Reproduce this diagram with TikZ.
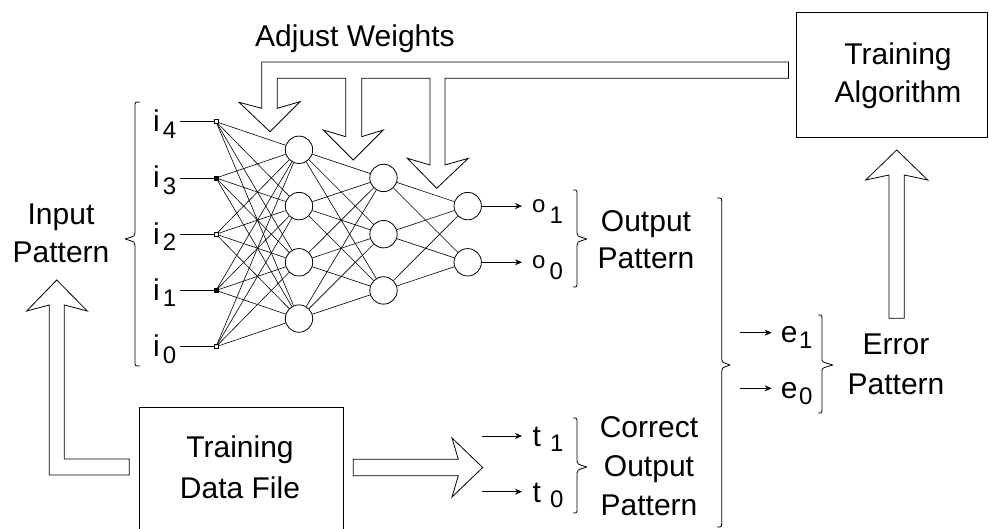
\documentclass[tikz,border=0pt]{standalone}
\usepackage{fontspec}
\setmainfont{Liberation Sans}
\usetikzlibrary{arrows.meta}
\newcommand\subidx[2]{\raisebox{-#2pt}{\fontsize{24}{24}\selectfont #1}}
\begin{document}
\begin{tikzpicture}[x=1pt,y=-1pt,
  wire/.style={line width=0.6pt},
  neuron/.style={circle,draw,line width=0.8pt,minimum size=27.4pt,inner sep=0pt},
  tap/.style={rectangle,draw,line width=0.6pt,minimum size=4pt,inner sep=0pt},
  tapfull/.style={tap,fill=black},
  hollow/.style={draw,line width=0.8pt,line join=miter},
  box/.style={draw,line width=1pt,inner sep=0pt},
  lbl/.style={font=\fontsize{30}{38}\selectfont,inner sep=0pt},
  small/.style={font=\fontsize{24}{24}\selectfont,inner sep=0pt},
  feed/.style={-{Stealth[length=7pt,width=6pt]},line width=0.8pt},
  brace/.style={line width=0.8pt,line join=round}]
\useasboundingbox (0,0) rectangle (989,529);
\clip (0,0) rectangle (989,529);

% ---------- network ----------
\foreach \k/\y in {4/121.7,3/177.95,2/234.2,1/290.45,0/346.7}{
  \coordinate (is\k) at (180,\y);
}
\node[tap]     (in4) at (216,121.7)  {};
\node[tapfull] (in3) at (216,177.95) {};
\node[tap]     (in2) at (216,234.2)  {};
\node[tapfull] (in1) at (216,290.45) {};
\node[tap]     (in0) at (216,346.7)  {};
\foreach \k in {0,...,4}{ \draw[wire,line width=0.8pt] (is\k) -- (in\k.west); }

\foreach \j/\y in {3/149.8,2/206.1,1/262.3,0/318.6}{ \node[neuron] (ha\j) at (299,\y) {}; }
\foreach \j/\y in {2/177.95,1/234.2,0/290.45}{ \node[neuron] (hb\j) at (383.5,\y) {}; }
\foreach \j/\y in {1/206.1,0/262.3}{ \node[neuron] (o\j) at (467.7,\y) {}; }

\foreach \a in {0,...,4}{ \foreach \b in {0,...,3}{ \draw[wire] (in\a) -- (ha\b); } }
\foreach \a in {0,...,3}{ \foreach \b in {0,...,2}{ \draw[wire] (ha\a) -- (hb\b); } }
\foreach \a in {0,...,2}{ \foreach \b in {0,1}{ \draw[wire] (hb\a) -- (o\b); } }

% input labels
\foreach \k/\y in {4/121.7,3/177.95,2/234.2,1/290.45,0/346.7}{
  \node[lbl,anchor=base west] (li\k) at (153,\y+10) {i\kern3pt\subidx{\k}{6.5}};
}

% outputs
\coordinate (oe1) at (522,206.1);
\coordinate (oe0) at (522,262.3);
\draw[feed] (o1) -- (oe1);
\draw[feed] (o0) -- (oe0);
\node[small,anchor=base west] (lo1) at (532,212.1) {o\kern4pt\subidx{1}{11}};
\node[small,anchor=base west] (lo0) at (532,268.3) {o\kern4pt\subidx{0}{11}};

% targets
\coordinate (ts1) at (482,436);   \coordinate (te1) at (522,436);
\coordinate (ts0) at (482,491.7); \coordinate (te0) at (522,491.7);
\draw[feed] (ts1) -- (te1);
\draw[feed] (ts0) -- (te0);
\node[lbl,anchor=base west] (lt1) at (532.5,447) {t\kern9pt\subidx{1}{5}};
\node[lbl,anchor=base west] (lt0) at (532.5,502.7) {t\kern9pt\subidx{0}{5}};

% errors
\coordinate (es1) at (740,332.7); \coordinate (ee1) at (771.7,332.7);
\coordinate (es0) at (740,388.3); \coordinate (ee0) at (771.7,388.3);
\draw[feed] (es1) -- (ee1);
\draw[feed] (es0) -- (ee0);
\node[lbl,anchor=base west] (le1) at (780.7,343) {e\kern1.5pt\subidx{1}{6}};
\node[lbl,anchor=base west] (le0) at (780.7,398.6) {e\kern1.5pt\subidx{0}{6}};

% ---------- braces ----------
% input brace (opens right)
\draw[brace] (140,102) .. controls (135,102) .. (135,107) -- (135,233)
  .. controls (135,236) .. (125,239) .. controls (135,242) .. (135,245)
  -- (135,361) .. controls (135,366) .. (140,366);
% output brace
\draw[brace] (573,190) .. controls (577,190) .. (577,195) -- (577,233)
  .. controls (577,236) .. (587,239) .. controls (577,242) .. (577,245)
  -- (577,282) .. controls (577,287) .. (573,287);
% correct output brace
\draw[brace] (573,418) .. controls (577,418) .. (577,423) -- (577,461)
  .. controls (577,464) .. (587,467) .. controls (577,470) .. (577,473)
  -- (577,508) .. controls (577,513) .. (573,513);
% combined brace
\draw[brace] (717,198) .. controls (721.7,198) .. (721.7,203) -- (721.7,359)
  .. controls (721.7,362) .. (730,365) .. controls (721.7,368) .. (721.7,371)
  -- (721.7,522) .. controls (721.7,527) .. (717,527);
% error brace
\draw[brace] (818,315) .. controls (822,315) .. (822,320) -- (822,359)
  .. controls (822,362) .. (833,365) .. controls (822,368) .. (822,371)
  -- (822,408) .. controls (822,413) .. (818,413);

% ---------- boxes ----------
\node[box,minimum width=191.5pt,minimum height=124.6pt] (algo) at (891.75,75) {};
\node[box,minimum width=204.3pt,minimum height=160pt] (data) at (241.15,487.7) {};

% ---------- texts (multi-line nodes sit on their last baseline) ----------
\node[lbl,anchor=base west] (adj) at (255,46.7) {Adjust Weights};
\node[lbl,anchor=base,align=center] (algotxt) at (898,103) {Training\\Algorithm};
\node[lbl,anchor=base,align=center] (inpat) at (61,263) {Input\\Pattern};
\node[lbl,anchor=base,align=center,font=\fontsize{30}{37}\selectfont] (outpat) at (646,268.5) {Output\\Pattern};
\node[lbl,anchor=base,align=center,font=\fontsize{30}{39}\selectfont] (corpat) at (649,515) {Correct\\Output\\Pattern};
\node[lbl,anchor=base,align=center,font=\fontsize{30}{40}\selectfont] (errpat) at (896,395) {Error\\Pattern};
\node[lbl,anchor=base,align=center,font=\fontsize{30}{40}\selectfont] (datatxt) at (240,498) {Training\\Data File};

% ---------- hollow block arrows ----------
% weight adjustment, branching onto the three layers
\draw[hollow] (788.5,62) -- (261.7,62) -- (261.7,108.3) -- (239,102.3) -- (270,131.7)
  -- (300,101.7) -- (277.3,108.3) -- (277.3,78.3) -- (345.7,78.3) -- (345.7,136.7)
  -- (323.3,130) -- (353.3,160) -- (383.3,130) -- (361.7,136.7) -- (361.7,78.3)
  -- (430,78.3) -- (430,165) -- (407.3,158.3) -- (436.7,188.3) -- (468.3,158.3)
  -- (445,165) -- (445,78.3) -- (788.5,78.3) -- cycle;
% error pattern up to the training algorithm
\draw[hollow] (889,318.3) -- (889,175) -- (865.7,180) -- (896.7,150) -- (927.7,180)
  -- (904.3,175) -- (904.3,318.3) -- cycle;
% training data to input pattern
\draw[hollow] (129.3,475) -- (49.3,475) -- (49.3,305) -- (26.7,311) -- (56.7,280)
  -- (87.3,311) -- (64.3,305) -- (64.3,459) -- (129.3,459) -- cycle;
% training data to correct output pattern
\draw[hollow] (353.3,459.3) -- (458.3,459.3) -- (452,438) -- (482.7,467.5)
  -- (452,497) -- (458.3,475.7) -- (353.3,475.7) -- cycle;
\end{tikzpicture}
\end{document}
